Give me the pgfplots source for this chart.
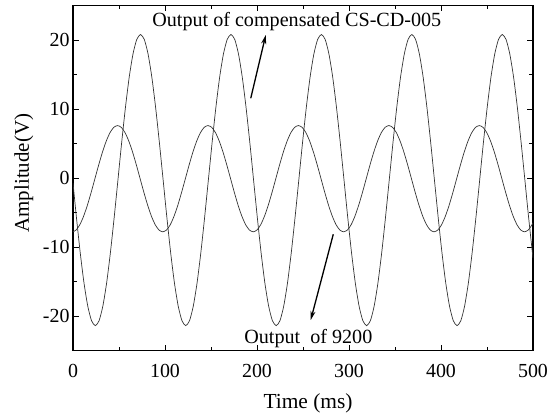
\documentclass[border=0pt]{standalone}
\usepackage{pgfplots}
\pgfplotsset{compat=1.18}
\usepackage{fontspec}
\setmainfont{Liberation Serif}
\usetikzlibrary{arrows.meta}
\begin{document}
\begin{tikzpicture}
\begin{axis}[
  scale only axis,
  width=460bp, height=345bp,
  xmin=0, xmax=500, ymin=-25, ymax=25,
  xtick={0,100,200,300,400,500},
  ytick={-20,-10,0,10,20},
  minor x tick num=1, minor y tick num=1,
  tick align=inside,
  major tick length=6bp, minor tick length=4bp,
  axis line style={line width=1.2bp},
  every tick/.style={black, line width=0.9bp},
  /pgf/number format/assume math mode=true,
  ticklabel style={font=\fontsize{20}{22}\selectfont},
  xticklabel style={anchor=base, yshift=-26.5bp},
  xlabel={Time (ms)}, ylabel={Amplitude(V)},
  every axis x label/.style={at={(axis description cs:0.511,-0.1667)}, anchor=base, font=\fontsize{21.5}{24}\selectfont},
  every axis y label/.style={at={(axis description cs:-0.0957,0.514)}, anchor=base, rotate=90, font=\fontsize{21}{24}\selectfont},
  clip=true,
]
\addplot[black!80, line width=0.7bp, smooth, tension=0.4] coordinates {
(0,-0.74) (3.77,-5.76) (7.87,-10.85) (11.96,-15.22) (16.06,-18.57) (20.15,-20.68) (24.25,-21.40) (28.35,-20.68) (32.44,-18.57) (36.54,-15.22) (40.63,-10.85) (44.73,-5.76) (48.83,-0.30) (52.92,5.16) (57.02,10.25) (61.11,14.62) (65.21,17.97) (69.30,20.08) (73.40,20.80) (77.50,20.08) (81.59,17.97) (85.69,14.62) (89.78,10.25) (93.88,5.16) (97.98,-0.30)
(102.07,-5.76) (106.17,-10.85) (110.26,-15.22) (114.36,-18.57) (118.45,-20.68) (122.55,-21.40) (126.65,-20.68) (130.74,-18.57) (134.84,-15.22) (138.93,-10.85) (143.03,-5.76) (147.13,-0.30) (151.22,5.16) (155.32,10.25) (159.41,14.62) (163.51,17.97) (167.60,20.08) (171.70,20.80) (175.80,20.08) (179.89,17.97) (183.99,14.62) (188.08,10.25) (192.18,5.16) (196.28,-0.30)
(200.37,-5.76) (204.47,-10.85) (208.56,-15.22) (212.66,-18.57) (216.75,-20.68) (220.85,-21.40) (224.95,-20.68) (229.04,-18.57) (233.14,-15.22) (237.23,-10.85) (241.33,-5.76) (245.43,-0.30) (249.52,5.16) (253.62,10.25) (257.71,14.62) (261.81,17.97) (265.90,20.08) (270.00,20.80) (274.10,20.08) (278.19,17.97) (282.29,14.62) (286.38,10.25) (290.48,5.16) (294.58,-0.30)
(298.67,-5.76) (302.77,-10.85) (306.86,-15.22) (310.96,-18.57) (315.05,-20.68) (319.15,-21.40) (323.25,-20.68) (327.34,-18.57) (331.44,-15.22) (335.53,-10.85) (339.63,-5.76) (343.73,-0.30) (347.82,5.16) (351.92,10.25) (356.01,14.62) (360.11,17.97) (364.20,20.08) (368.30,20.80) (372.40,20.08) (376.49,17.97) (380.59,14.62) (384.68,10.25) (388.78,5.16) (392.88,-0.30)
(396.97,-5.76) (401.07,-10.85) (405.16,-15.22) (409.26,-18.57) (413.35,-20.68) (417.45,-21.40) (421.55,-20.68) (425.64,-18.57) (429.74,-15.22) (433.83,-10.85) (437.93,-5.76) (442.03,-0.30) (446.12,5.16) (450.22,10.25) (454.31,14.62) (458.41,17.97) (462.50,20.08) (466.60,20.80) (470.70,20.08) (474.79,17.97) (478.89,14.62) (482.98,10.25) (487.08,5.16) (491.18,-0.30)
(495.27,-5.76) (499.37,-10.85) (500,-11.58)
};
\addplot[black!80, line width=0.7bp, smooth, tension=0.4] coordinates {
(0,-7.79) (3.35,-7.54) (7.44,-6.77) (11.53,-5.54) (15.63,-3.95) (19.73,-2.09) (23.83,-0.10) (27.92,1.89) (32.02,3.75) (36.11,5.34) (40.21,6.57) (44.30,7.34) (48.40,7.60) (52.50,7.34) (56.59,6.57) (60.69,5.34) (64.78,3.75) (68.88,1.89) (72.98,-0.10) (77.07,-2.09) (81.17,-3.95) (85.26,-5.54) (89.36,-6.77) (93.45,-7.54) (97.55,-7.80)
(101.65,-7.54) (105.74,-6.77) (109.83,-5.54) (113.93,-3.95) (118.03,-2.09) (122.13,-0.10) (126.22,1.89) (130.32,3.75) (134.41,5.34) (138.51,6.57) (142.60,7.34) (146.70,7.60) (150.80,7.34) (154.89,6.57) (158.99,5.34) (163.08,3.75) (167.18,1.89) (171.28,-0.10) (175.37,-2.09) (179.47,-3.95) (183.56,-5.54) (187.66,-6.77) (191.75,-7.54) (195.85,-7.80)
(199.95,-7.54) (204.04,-6.77) (208.13,-5.54) (212.23,-3.95) (216.33,-2.09) (220.43,-0.10) (224.52,1.89) (228.62,3.75) (232.71,5.34) (236.81,6.57) (240.90,7.34) (245.00,7.60) (249.10,7.34) (253.19,6.57) (257.29,5.34) (261.38,3.75) (265.48,1.89) (269.58,-0.10) (273.67,-2.09) (277.77,-3.95) (281.86,-5.54) (285.96,-6.77) (290.05,-7.54) (294.15,-7.80)
(298.25,-7.54) (302.34,-6.77) (306.43,-5.54) (310.53,-3.95) (314.63,-2.09) (318.73,-0.10) (322.82,1.89) (326.92,3.75) (331.01,5.34) (335.11,6.57) (339.20,7.34) (343.30,7.60) (347.40,7.34) (351.49,6.57) (355.59,5.34) (359.68,3.75) (363.78,1.89) (367.88,-0.10) (371.97,-2.09) (376.07,-3.95) (380.16,-5.54) (384.26,-6.77) (388.35,-7.54) (392.45,-7.80)
(396.55,-7.54) (400.64,-6.77) (404.73,-5.54) (408.83,-3.95) (412.93,-2.09) (417.03,-0.10) (421.12,1.89) (425.22,3.75) (429.31,5.34) (433.41,6.57) (437.50,7.34) (441.60,7.60) (445.70,7.34) (449.79,6.57) (453.89,5.34) (457.98,3.75) (462.08,1.89) (466.18,-0.10) (470.27,-2.09) (474.37,-3.95) (478.46,-5.54) (482.56,-6.77) (486.65,-7.54) (490.75,-7.80)
(494.85,-7.54) (498.94,-6.77) (500,-6.49)
};
\node[anchor=base west, inner sep=0pt, font=\fontsize{20.2}{22}\selectfont] at (axis cs:86,21.9) {Output of compensated CS-CD-005};
\node[anchor=base west, inner sep=0pt, font=\fontsize{20.2}{22}\selectfont] at (axis cs:186,-23.96) {Output~ of 9200};
\draw[line width=1.3bp, -{Stealth[length=9bp,width=5bp]}] (axis cs:193.2,11.55) -- (axis cs:209.5,20.72);
\draw[line width=1.3bp, -{Stealth[length=9bp,width=5bp]}] (axis cs:282.9,-8.16) -- (axis cs:258.4,-20.58);
\end{axis}
\pgfresetboundingbox
\useasboundingbox (current axis.south west) ++(-73bp,-63.5bp) rectangle ++(552bp,414bp);
\end{tikzpicture}
\end{document}
